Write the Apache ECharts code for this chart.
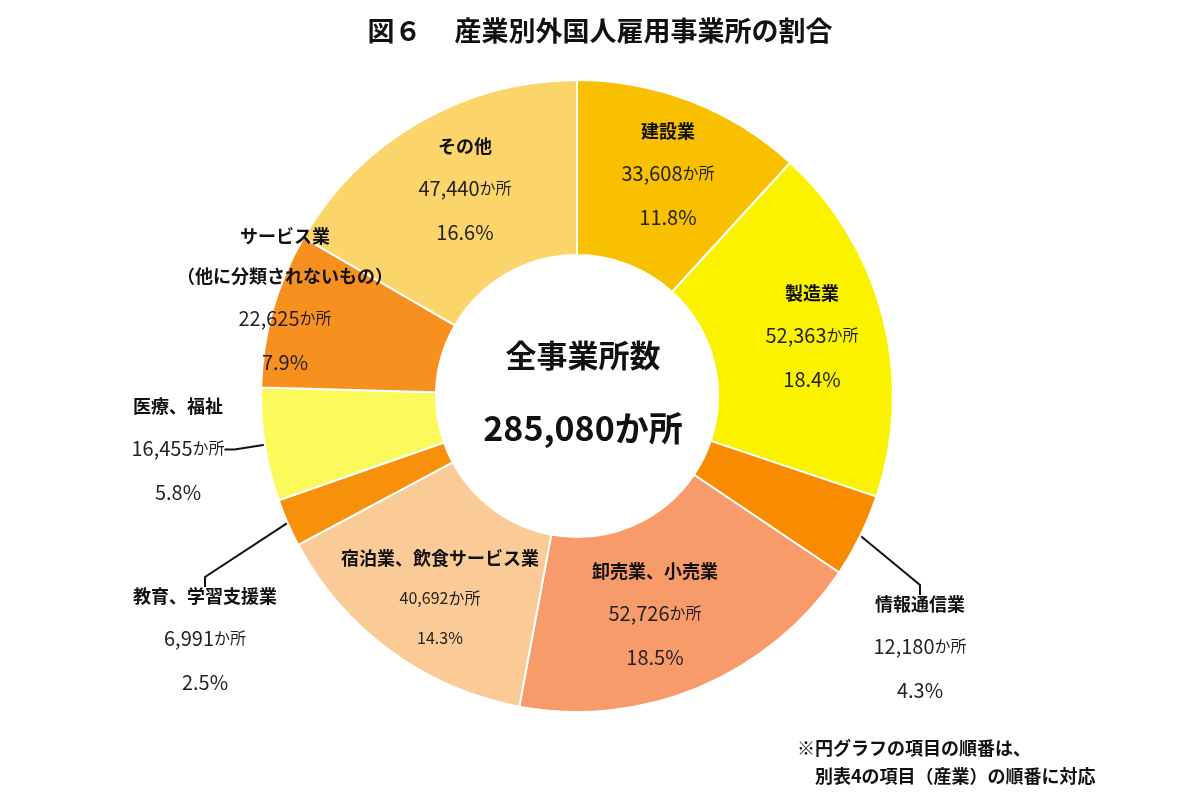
<!DOCTYPE html>
<html><head><meta charset="utf-8">
<script src="https://cdn.jsdelivr.net/npm/echarts@6/dist/echarts.min.js"></script>
<style>html,body{margin:0;background:#fff}#c{width:1200px;height:800px}</style>
</head><body><div id="c"></div>
<script>
const categories = ['建設業','製造業','情報通信業','卸売業、小売業','宿泊業、飲食サービス業','教育、学習支援業','医療、福祉','サービス業\n（他に分類されないもの）','その他'];
const values = [33608,52363,12180,52726,40692,6991,16455,22625,47440];
const colors = ['#F9C000','#FBF200','#F98B00','#F89B6B','#FBCB97','#F7900A','#FCFA5A','#F7901E','#FCD56A'];
const total = values.reduce((a,b)=>a+b,0);
const labelPos = [
 [668,175,'center'],[812,337,'center'],[920,648,'center'],[655,615,'center'],
 [440,598,'center'],[205,640,'center'],[178,450,'center'],[285,300,'center'],[465,190,'center']
];
const outside = [false,false,true,false,false,true,true,false,false];
const small = [false,false,false,false,true,false,false,false,false];
const ff = '"Noto Sans CJK JP","Noto Sans",sans-serif';
const chart = echarts.init(document.getElementById('c'));
chart.setOption({
 animation:false,
 title:{text:'図６　 産業別外国人雇用事業所の割合',left:'center',top:12,textStyle:{fontFamily:ff,fontSize:27,fontWeight:'bold',color:'#111'}},
 graphic:[
  {type:'text',x:583,y:355,style:{text:'全事業所数',font:'bold 31px '+ff,fill:'#111',align:'center',verticalAlign:'middle'}},
  {type:'text',x:583,y:428,style:{text:'285,080か所',font:'bold 34px '+ff,fill:'#111',align:'center',verticalAlign:'middle'}},
  {type:'text',x:797,y:734,style:{text:'※円グラフの項目の順番は、\n　別表4の項目（産業）の順番に対応',font:'bold 18px '+ff,fill:'#111',lineHeight:28}}
 ],
 series:[{
  type:'pie',center:[577,396],radius:[141,316],startAngle:90,clockwise:true,
  itemStyle:{borderColor:'#fff',borderWidth:2},
  data:categories.map((n,i)=>({name:n,value:values[i],itemStyle:{color:colors[i]},
   label:{position:outside[i]?'outside':'inside'},
   labelLine:{show:outside[i],length:10,length2:10,lineStyle:{color:'#111',width:2}}})),
  label:{fontFamily:ff,color:'#222',
   formatter:p=>{const s=small[p.dataIndex]?'s':'';return '{n|'+p.name.split('\n').join('}\n{n|')+'}\n{v'+s+'|'+p.value.toLocaleString('en-US')+'}{u|か所}\n{p'+s+'|'+(p.value/total*100).toFixed(1)+'%}';},
   rich:{n:{fontSize:18,fontWeight:'bold',color:'#111',lineHeight:40,fontFamily:ff},
    v:{fontSize:20,color:'#222',lineHeight:44,fontFamily:ff},vs:{fontSize:16,color:'#222',lineHeight:40,fontFamily:ff},
    u:{fontSize:16,color:'#222',fontFamily:ff},
    p:{fontSize:20,color:'#222',lineHeight:44,fontFamily:ff},ps:{fontSize:16,color:'#222',lineHeight:40,fontFamily:ff}}},
  labelLayout:p=>{const q=labelPos[p.dataIndex];return {x:q[0],y:q[1],align:q[2],verticalAlign:'middle'};}
 }]
});
</script></body></html>
